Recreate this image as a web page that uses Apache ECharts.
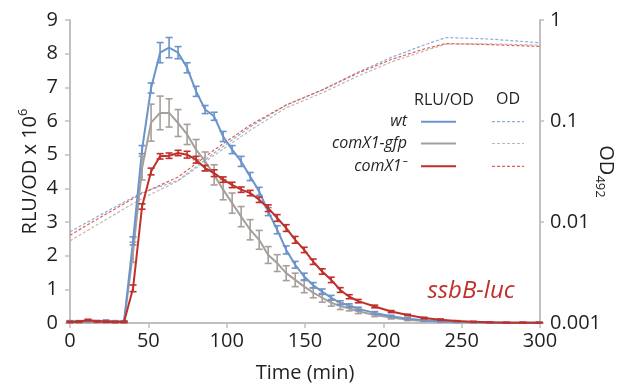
<!DOCTYPE html>
<html><head><meta charset="utf-8">
<script src="https://cdn.jsdelivr.net/npm/echarts@6/dist/echarts.min.js"></script>
<style>html,body{margin:0;padding:0;background:#fff}#c{width:623px;height:386px}</style>
</head><body><div id="c"></div>
<script>
// ---- data ----
const times = [0,5.75,11.5,17.25,23,28.75,34.5,40.25,46,51.75,57.5,63.25,69,74.75,80.5,86.25,92,97.75,103.5,109.25,115,120.75,126.5,132.25,138,143.75,149.5,155.25,161,166.75,172.5,178.25,184,194.5,205,215.5,226,236.5,247,257.5,268,278.5,289,299.5];
const wtRLU = [0.05,0.05,0.06,0.05,0.07,0.05,0.05,2.44,5.15,6.98,8.03,8.18,8.03,7.58,6.88,6.34,6.14,5.54,5.15,4.8,4.35,3.91,3.31,2.77,2.17,1.73,1.38,1.12,0.93,0.75,0.6,0.52,0.42,0.3,0.2,0.13,0.08,0.05,0.03,0.02,0.01,0.01,0.01,0.01];
const wtErr = [0.02,0.02,0.02,0.02,0.02,0.02,0.02,0.12,0.12,0.15,0.3,0.3,0.18,0.15,0.15,0.12,0.12,0.15,0.12,0.15,0.12,0.12,0.12,0.12,0.12,0.1,0.1,0.08,0.08,0.07,0.06,0.05,0.05,0.04,0.03,0.03,0.02,0.02,0.01,0.01,0.01,0.01,0.01,0.01];
const gfpRLU = [0.03,0.03,0.03,0.03,0.03,0.03,0.03,2.1,4.6,5.95,6.24,6.24,5.94,5.6,5.15,4.8,4.4,3.96,3.56,3.16,2.77,2.47,2.02,1.78,1.48,1.28,1.08,0.9,0.75,0.6,0.5,0.44,0.35,0.24,0.16,0.1,0.06,0.04,0.02,0.02,0.01,0.01,0.01,0.01];
const gfpErr = [0.02,0.02,0.02,0.02,0.02,0.02,0.02,0.3,0.35,0.55,0.5,0.42,0.4,0.3,0.3,0.28,0.3,0.3,0.3,0.3,0.3,0.28,0.25,0.25,0.22,0.2,0.18,0.15,0.13,0.1,0.1,0.08,0.07,0.05,0.04,0.03,0.02,0.02,0.01,0.01,0.01,0.01,0.01,0.01];
const x1RLU = [0.03,0.04,0.09,0.05,0.04,0.03,0.03,1.03,3.46,4.5,4.95,4.97,5.05,5.0,4.85,4.6,4.45,4.26,4.1,3.96,3.86,3.66,3.41,3.12,2.82,2.47,2.17,1.82,1.53,1.28,0.98,0.78,0.65,0.49,0.34,0.24,0.15,0.1,0.06,0.04,0.02,0.01,0.01,0.01];
const x1Err = [0.02,0.02,0.02,0.02,0.02,0.02,0.02,0.1,0.08,0.1,0.08,0.08,0.08,0.1,0.1,0.08,0.1,0.08,0.08,0.08,0.08,0.08,0.1,0.1,0.1,0.1,0.08,0.08,0.08,0.08,0.07,0.06,0.05,0.04,0.03,0.02,0.02,0.02,0.01,0.01,0.01,0.01,0.01,0.01];
const odTimes = [0,23,46,69,92,115,138,161,184,205,226,240,268,300];
const odWt  = [0.0080,0.0126,0.0196,0.0258,0.0482,0.0873,0.144,0.203,0.305,0.426,0.565,0.671,0.648,0.595];
const odGfp = [0.0065,0.0106,0.0171,0.0255,0.0457,0.081,0.135,0.19,0.279,0.384,0.493,0.578,0.58,0.565];
const odX1  = [0.0074,0.0120,0.0192,0.0279,0.0516,0.091,0.144,0.203,0.299,0.406,0.516,0.585,0.57,0.547];
const odTickLabels = ['0.001','0.01','0.1','1'];
const strains = ['wt','comX1-gfp','comX1\u207B'];

// ---- styles ----
const FONT = '"Open Sans", "Noto Sans", sans-serif';
const C = {wt:'#6b93cc', gfp:'#a69f9c', x1:'#c0302b'};
const CD = {wt:'#8eabd9', gfp:'#bdb8b5', x1:'#e0604f'};
const AX = '#c4bfbc';

function pairs(xs, ys){ return xs.map((x,i)=>[x, ys[i]]); }
function errSeries(vals, errs, color){
  return {
    type:'custom', yAxisIndex:0, z:4, silent:true,
    data: times.map((t,i)=>[t, Math.max(0, vals[i]-errs[i]), vals[i]+errs[i]]),
    renderItem(params, api){
      const x = api.value(0);
      const lo = api.coord([x, api.value(1)]);
      const hi = api.coord([x, api.value(2)]);
      const w = 3.5, st = {stroke:color, lineWidth:1.6};
      return {type:'group', children:[
        {type:'line', shape:{x1:lo[0],y1:lo[1],x2:hi[0],y2:hi[1]}, style:st},
        {type:'line', shape:{x1:lo[0]-w,y1:lo[1],x2:lo[0]+w,y2:lo[1]}, style:st},
        {type:'line', shape:{x1:hi[0]-w,y1:hi[1],x2:hi[0]+w,y2:hi[1]}, style:st}
      ]};
    }
  };
}
function rluLine(vals, color, z){
  return {type:'line', yAxisIndex:0, data:pairs(times, vals), showSymbol:false, z:z,
    lineStyle:{color:color, width:2}, itemStyle:{color:color}};
}
function odLine(vals, color){
  return {type:'line', yAxisIndex:1, data:pairs(odTimes, vals), showSymbol:false, z:1,
    lineStyle:{color:color, width:1.2, type:[3,2]}, itemStyle:{color:color}};
}

const chart = echarts.init(document.getElementById('c'));
const legX = 407, legRows = [121.7, 143.5, 166.3];
const legendGraphics = [
  {type:'text', left:414, top:92, style:{text:'RLU/OD', font:'16px '+FONT, fill:'#231f20'}},
  {type:'text', left:496, top:91, style:{text:'OD', font:'16px '+FONT, fill:'#231f20'}}
];
[['wt',C.wt,CD.wt],['gfp',C.gfp,CD.gfp],['x1',C.x1,CD.x1]].forEach((s,i)=>{
  legendGraphics.push({type:'text', x:legX, y:legRows[i], style:{text:strains[i], font:'italic 16px '+FONT, fill:'#231f20', align:'right', verticalAlign:'middle'}});
  legendGraphics.push({type:'line', shape:{x1:421,y1:legRows[i],x2:456,y2:legRows[i]}, style:{stroke:s[1], lineWidth:2}});
  legendGraphics.push({type:'line', shape:{x1:492,y1:legRows[i],x2:524,y2:legRows[i]}, style:{stroke:s[2], lineWidth:1.2, lineDash:[3,2]}});
});
legendGraphics.push({type:'text', x:471, y:291, style:{text:'ssbB-luc', font:'italic 24px '+FONT, fill:'#c0302b', align:'center', verticalAlign:'middle'}});

chart.setOption({
  animation:false,
  grid:{left:70, right:83, top:20, bottom:63, containLabel:false, outerBoundsMode:'none'},
  xAxis:{type:'value', min:0, max:300, interval:50,
    name:'Time (min)', nameLocation:'middle', nameGap:40, nameMoveOverlap:false,
    nameTextStyle:{fontFamily:FONT, fontSize:20, color:'#231f20'},
    axisLine:{lineStyle:{color:AX, width:2}}, axisTick:{lineStyle:{color:AX, width:1.5}, length:5},
    axisLabel:{fontFamily:FONT, fontSize:20, color:'#231f20', margin:8},
    splitLine:{show:false}},
  yAxis:[
    {type:'value', min:0, max:9, interval:1, position:'left',
      name:'{a|RLU/OD x 10}{s|6}', nameLocation:'middle', nameGap:27, nameRotate:90, nameMoveOverlap:false,
      nameTextStyle:{rich:{a:{fontFamily:FONT, fontSize:20, color:'#231f20', lineHeight:26}, s:{fontFamily:FONT, fontSize:13, color:'#231f20', verticalAlign:'top', lineHeight:26, padding:[0,0,10,0]}}},
      axisLine:{show:true, lineStyle:{color:AX, width:2}}, axisTick:{show:true, lineStyle:{color:AX, width:1.5}, length:5},
      axisLabel:{fontFamily:FONT, fontSize:20, color:'#231f20', margin:12},
      splitLine:{show:false}},
    {type:'log', logBase:10, min:0.001, max:1, position:'right',
      name:'{a|OD}{s|492}', nameLocation:'middle', nameGap:53, nameRotate:-90, nameMoveOverlap:false,
      nameTextStyle:{rich:{a:{fontFamily:FONT, fontSize:20, color:'#231f20', lineHeight:26}, s:{fontFamily:FONT, fontSize:13, color:'#231f20', verticalAlign:'bottom', lineHeight:26, padding:[10,0,0,0]}}},
      axisLine:{show:true, lineStyle:{color:AX, width:2}}, axisTick:{show:true, lineStyle:{color:AX, width:1.5}, length:4},
      axisLabel:{fontFamily:FONT, fontSize:20, color:'#231f20', margin:10,
        formatter:v=>odTickLabels[Math.round(Math.log10(v))+3]},
      splitLine:{show:false}, minorTick:{show:false}}
  ],
  series:[
    odLine(odWt, CD.wt), odLine(odGfp, CD.gfp), odLine(odX1, CD.x1),
    rluLine(gfpRLU, C.gfp, 2), errSeries(gfpRLU, gfpErr, C.gfp),
    rluLine(wtRLU, C.wt, 3), errSeries(wtRLU, wtErr, C.wt),
    rluLine(x1RLU, C.x1, 5), errSeries(x1RLU, x1Err, C.x1)
  ],
  graphic: legendGraphics
});
</script></body></html>
